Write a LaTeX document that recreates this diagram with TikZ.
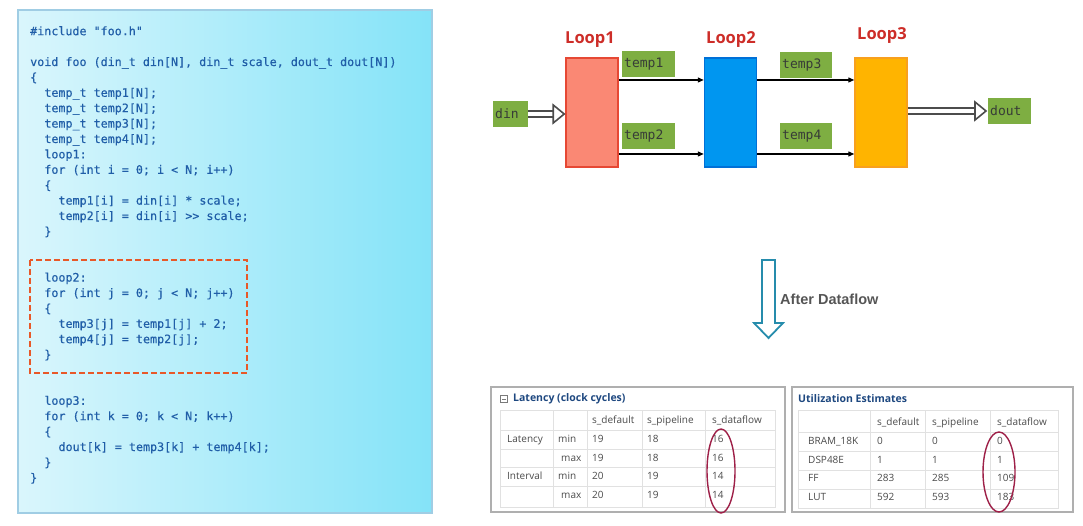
\documentclass[tikz,border=0pt]{standalone}
\usepackage{fontspec}
\setmainfont{Open Sans}
\setmonofont{DejaVu Sans Mono}
\newfontfamily\codefont{DejaVu Sans Mono}[FakeBold=0.4]
\newfontfamily\arialfont{Liberation Sans}
\usepackage{tikz}
\usetikzlibrary{calc,positioning,arrows.meta}
\definecolor{panelleft}{RGB}{218,246,252}
\definecolor{panelright}{RGB}{132,227,248}
\definecolor{panelline}{RGB}{160,205,228}
\definecolor{codeblue}{RGB}{32,94,168}
\definecolor{dashred}{RGB}{232,88,40}
\definecolor{loopredfill}{RGB}{250,136,116}
\definecolor{loopredline}{RGB}{230,72,52}
\definecolor{loopbluefill}{RGB}{0,150,240}
\definecolor{loopblueline}{RGB}{0,112,215}
\definecolor{looporangefill}{RGB}{255,180,0}
\definecolor{looporangeline}{RGB}{248,160,30}
\definecolor{looptitle}{RGB}{205,45,40}
\definecolor{datagreen}{RGB}{126,174,66}
\definecolor{datatext}{RGB}{55,60,55}
\definecolor{afterteal}{RGB}{38,140,172}
\definecolor{aftertext}{RGB}{85,85,85}
\definecolor{tabframe}{RGB}{175,175,175}
\definecolor{tabgrid}{RGB}{225,225,225}
\definecolor{tabtitle}{RGB}{30,72,128}
\definecolor{tabtext}{RGB}{75,75,75}
\definecolor{ringred}{RGB}{158,32,72}

\begin{document}
\begin{tikzpicture}[
  x=1pt, y=-1pt,
  code/.style={font=\codefont\fontsize{11.7}{14}\selectfont, text=codeblue, anchor=base west, inner sep=0pt},
  loopbox/.style={minimum width=52pt, minimum height=109pt, line width=1.5pt, inner sep=0pt},
  looplabel/.style={font=\bfseries\fontsize{16.5}{19}\selectfont, text=looptitle, inner sep=0pt},
  databox/.style={fill=datagreen, font=\ttfamily\fontsize{13}{15}\selectfont, text=datatext,
    minimum height=26pt, inner xsep=2pt, inner ysep=0pt, anchor=west, align=left},
  flow/.style={-{Triangle[length=6pt,width=5pt]}, line width=1.3pt, draw=black},
  dblflow/.style={double=white, double distance=4pt, line width=1.6pt, draw=black!70, shorten >=10pt},
  dblhead/.style={draw=black!70, fill=white, line width=1.6pt, line join=miter},
  tabcell/.style={font=\fontsize{10}{12}\selectfont, text=tabtext, anchor=base west, inner sep=0pt},
  tabhead/.style={font=\bfseries\fontsize{10.5}{12}\selectfont, text=tabtitle, anchor=west, inner sep=0pt},
  ring/.style={draw=ringred, line width=1.4pt}
]
\useasboundingbox (0,0) rectangle (1083,526);
% Source listing (left panel)
\shade[left color=panelleft, right color=panelright] (18,10) rectangle (432,513);
\draw[panelline, line width=2pt] (18,10) rectangle (432,513);
\draw[dashred, line width=1.5pt, dash pattern=on 6pt off 3pt] (30,260) rectangle (247,373);
\foreach \n/\ind/\txt [count=\k] in {
  -2/0/{\#include "foo.h"},
  0/0/{void foo (din\_t din[N], din\_t scale, dout\_t dout[N])},
  1/0/{\{},
  2/2/{temp\_t temp1[N];},
  3/2/{temp\_t temp2[N];},
  4/2/{temp\_t temp3[N];},
  5/2/{temp\_t temp4[N];},
  6/2/{loop1:},
  7/2/{for (int i = 0; i < N; i++)},
  8/2/{\{},
  9/4/{temp1[i] = din[i] * scale;},
  10/4/{temp2[i] = din[i] >> scale;},
  11/2/{\}},
  14/2/{loop2:},
  15/2/{for (int j = 0; j < N; j++)},
  16/2/{\{},
  17/4/{temp3[j] = temp1[j] + 2;},
  18/4/{temp4[j] = temp2[j];},
  19/2/{\}},
  22/2/{loop3:},
  23/2/{for (int k = 0; k < N; k++)},
  24/2/{\{},
  25/4/{dout[k] = temp3[k] + temp4[k];},
  26/2/{\}},
  27/0/{\}}} {
  \node[code] (code\k) at ({30+\ind*7.08}, {66+\n*15.4}) {\txt};
}
% Loop pipeline (top right)
\node[loopbox, fill=loopredfill, draw=loopredline] (loop1) at (592,112.5) {};
\node[loopbox, fill=loopbluefill, draw=loopblueline] (loop2) at (730.5,112.5) {};
\node[loopbox, fill=looporangefill, draw=looporangeline] (loop3) at (881,112.5) {};
\node[looplabel] (lbl1) at (590,40) {Loop1};
\node[looplabel] (lbl2) at (731,40) {Loop2};
\node[looplabel] (lbl3) at (882,36) {Loop3};
\node[databox, text width=31pt] (din) at (493,114) {din};
\node[databox, text width=39pt] (dout) at (988,111) {dout};
\node[databox, text width=49pt] (temp1) at (622,64.5) {temp1};
\node[databox, text width=49pt] (temp2) at (622,136.5) {temp2};
\node[databox, text width=48pt] (temp3) at (780,65) {temp3};
\node[databox, text width=48pt] (temp4) at (780,136.5) {temp4};
\draw[flow] ([yshift=32.5pt]loop1.east) -- ([yshift=32.5pt]loop2.west);
\draw[flow] ([yshift=-41.5pt]loop1.east) -- ([yshift=-41.5pt]loop2.west);
\draw[flow] ([yshift=32.5pt]loop2.east) -- ([yshift=32.5pt]loop3.west);
\draw[flow] ([yshift=-41.5pt]loop2.east) -- ([yshift=-41.5pt]loop3.west);
% hollow double arrows in and out
\coordinate (inend) at ([xshift=-1pt]din.east -| loop1.west);
\coordinate (outend) at ([xshift=-2pt]dout.west);
\draw[dblflow] (din.east) -- (inend);
\draw[dblhead] (inend) -- ++(-11,-9) -- ++(0,18) -- cycle;
\draw[dblflow] (dout.west -| loop3.east) -- (outend);
\draw[dblhead] (outend) -- ++(-11,-9) -- ++(0,18) -- cycle;
% After Dataflow
\draw[afterteal, line width=1.8pt, fill=white, line join=miter]
  (762,260) -- (775,260) -- (775,323) -- (783,323) -- (768.5,338) -- (754,323) -- (762,323) -- cycle;
\node[font=\arialfont\bfseries\fontsize{14.5}{17}\selectfont, text=aftertext, anchor=west, inner sep=0pt]
  (after) at (780,299) {After Dataflow};
% Latency report (bottom left)
\draw[tabframe, line width=1.5pt, fill=white] (491,387) rectangle (785,512);
\draw[tabframe!70!black, line width=0.6pt] (500.5,395.5) rectangle (507.5,402.5);
\draw[tabframe!70!black, line width=0.6pt] (502,399) -- (506,399);
\node[tabhead] (lathead) at (513,399) {Latency (clock cycles)};
\draw[tabgrid, line width=0.8pt] (500,410) rectangle (775,507);
\foreach \yy in {430,449,467,486} \draw[tabgrid, line width=0.8pt] (500,\yy) -- (775,\yy);
\foreach \xx in {553,587,642,705} \draw[tabgrid, line width=0.8pt] (\xx,410) -- (\xx,507);
\node[tabcell] (latc1) at (592,423.5) {s\_default};
\node[tabcell] (latc2) at (647,423.5) {s\_pipeline};
\node[tabcell] (latc3) at (712,423.5) {s\_dataflow};
\node[tabcell] (latr1) at (507,442.5) {Latency};
\node[tabcell] (latr3) at (507,479.5) {Interval};
\foreach \yy/\mm/\mx/\a/\b/\c [count=\k] in {
  442.5/min/558/19/18/16, 461.5/max/561/19/18/16,
  479.5/min/558/20/19/14, 498.5/max/561/20/19/14} {
  \node[tabcell] (latm\k) at (\mx,\yy) {\mm};
  \node[tabcell] (lata\k) at (592,\yy) {\a};
  \node[tabcell] (latb\k) at (647,\yy) {\b};
  \node[tabcell] (latd\k) at (712,\yy) {\c};
}
\draw[ring] (721,471) ellipse [x radius=14pt, y radius=42pt];
% Utilization report (bottom right)
\draw[tabframe, line width=1.5pt, fill=white] (792,387) rectangle (1073,512);
\node[tabhead] (utilhead) at (798,399) {Utilization Estimates};
\draw[tabgrid, line width=0.8pt] (798,410) rectangle (1058,508);
\foreach \yy in {432,451,470,489} \draw[tabgrid, line width=0.8pt] (798,\yy) -- (1058,\yy);
\foreach \xx in {870,925,990} \draw[tabgrid, line width=0.8pt] (\xx,410) -- (\xx,508);
\node[tabcell] (utc1) at (877,425.5) {s\_default};
\node[tabcell] (utc2) at (932,425.5) {s\_pipeline};
\node[tabcell] (utc3) at (997,425.5) {s\_dataflow};
\foreach \yy/\res/\a/\b/\c [count=\k] in {
  444.5/BRAM\_18K/0/0/0, 463.5/DSP48E/1/1/1,
  481.5/FF/283/285/109, 500.5/LUT/592/593/183} {
  \node[tabcell] (utr\k) at (808,\yy) {\res};
  \node[tabcell] (uta\k) at (877,\yy) {\a};
  \node[tabcell] (utb\k) at (932,\yy) {\b};
  \node[tabcell] (utd\k) at (997,\yy) {\c};
}
\draw[ring] (999,472) ellipse [x radius=16pt, y radius=40pt];
\end{tikzpicture}
\end{document}
